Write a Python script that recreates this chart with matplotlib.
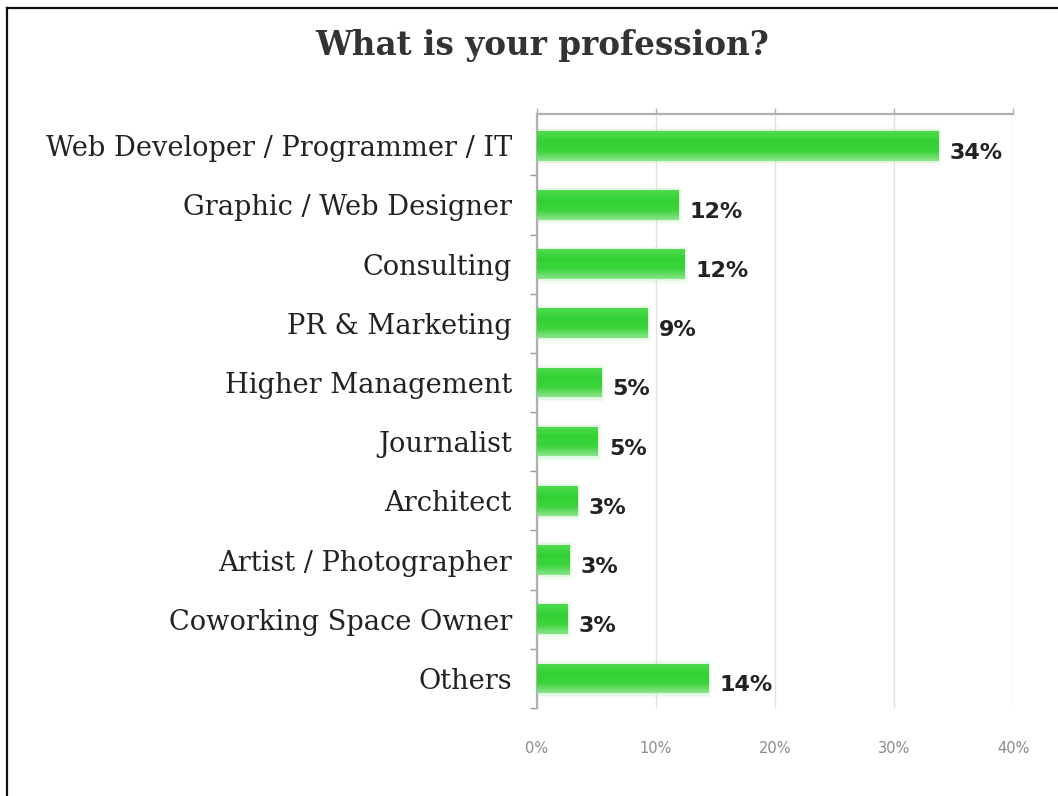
import numpy as np
import matplotlib
matplotlib.use("Agg")
import matplotlib.pyplot as plt
from matplotlib.colors import LinearSegmentedColormap
from matplotlib.lines import Line2D

# Survey answers (share of respondents, %)
professions = [
    "Web Developer / Programmer / IT",
    "Graphic / Web Designer",
    "Consulting",
    "PR & Marketing",
    "Higher Management",
    "Journalist",
    "Architect",
    "Artist / Photographer",
    "Coworking Space Owner",
    "Others",
]
shares = [33.7, 11.85, 12.4, 9.3, 5.4, 5.1, 3.4, 2.7, 2.6, 14.4]
x_ticks = [0, 10, 20, 30, 40]
x_tick_labels = ["0%", "10%", "20%", "30%", "40%"]
title = "What is your profession?"

W, H = 1058, 796
fig = plt.figure(figsize=(W / 100, H / 100), dpi=100)
fig.patch.set_facecolor("white")

ax_left, ax_right, ax_top, ax_bottom = 537, 1013, 114, 708
ax = fig.add_axes([ax_left / W, 1 - ax_bottom / H,
                   (ax_right - ax_left) / W, (ax_bottom - ax_top) / H])

y = np.arange(len(professions))
bars = ax.barh(y, shares, height=0.5, color="#3fd63f", edgecolor="none", zorder=3)

# vertical gradient inside each bar
grad_cmap = LinearSegmentedColormap.from_list(
    "bar_grad", ["#4fdc4f", "#33d133", "#3ad43a", "#8ae48a"])
grad = np.linspace(0, 1, 64).reshape(-1, 1)
for b in bars:
    x0, y0 = b.get_x(), b.get_y()
    w, h = b.get_width(), b.get_height()
    # soft halo around the bar
    for k, a in [(0.10, 0.10), (0.05, 0.18)]:
        ax.add_patch(plt.Rectangle((x0, y0 - k * 0.6), w + k * 2.5, h + k * 1.4,
                                   facecolor="#9be89b", edgecolor="none",
                                   alpha=a, zorder=2))
    im = ax.imshow(grad, cmap=grad_cmap, aspect="auto",
                   extent=(x0, x0 + w, y0 + h, y0), zorder=4,
                   interpolation="bicubic")
    im.set_clip_path(b)

for yi, v in zip(y, shares):
    ax.annotate(f"{v:.0f}%", xy=(v, yi), xytext=(8, -5), textcoords="offset points",
                ha="left", va="center", fontsize=16, fontweight="bold",
                family="DejaVu Sans", color="#222222", zorder=5)

ax.set_xlim(0, 40)
ax.set_ylim(9.414, -0.536)
ax.set_yticks(y)
ax.set_yticklabels(professions, family="DejaVu Serif", fontsize=19.6, color="#222222")
ax.set_yticks(np.arange(len(professions)) + 0.5, minor=True)
ax.tick_params(axis="y", which="major", length=0, pad=18)
ax.tick_params(axis="y", which="minor", length=5, width=1, color="#999999", direction="out")

ax.set_xticks(x_ticks)
ax.set_xticklabels(x_tick_labels, family="DejaVu Sans", fontsize=10.5, color="#8a8a8a")
ax.tick_params(axis="x", top=True, bottom=False, labeltop=False, labelbottom=True,
               length=4, width=1, color="#b0b0b0", direction="out", pad=20)

ax.grid(axis="x", color="#e2e2e2", linewidth=1, zorder=0)
ax.set_axisbelow(True)

for side in ["right", "bottom"]:
    ax.spines[side].set_visible(False)
for side in ["top", "left"]:
    ax.spines[side].set_color("#b0b0b0")
    ax.spines[side].set_linewidth(1.6)
ax.set_facecolor("white")

fig.text(542 / W, 1 - 45 / H, title, ha="center", va="center",
         family="DejaVu Serif", fontweight="heavy", fontsize=23.5, color="#333333")

# frame lines along the top and left edges
fig.add_artist(Line2D([7 / W, 1], [1 - 8 / H, 1 - 8 / H], transform=fig.transFigure,
                      color="#111111", linewidth=1.6))
fig.add_artist(Line2D([7 / W, 7 / W], [0, 1 - 8 / H], transform=fig.transFigure,
                      color="#111111", linewidth=1.6))

fig.savefig("out.png", dpi=100, facecolor="white")
